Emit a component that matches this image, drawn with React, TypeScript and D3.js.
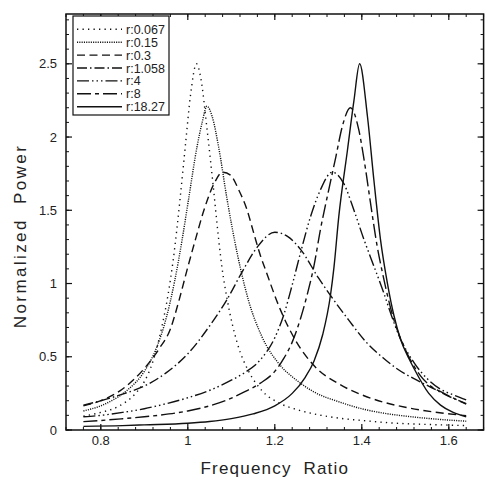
import React from 'react';
import * as d3 from 'd3';

// series (frequency ratio, normalized power)
const r0067X = [0.76, 0.8, 0.84, 0.88, 0.9, 0.92, 0.94, 0.955, 0.966, 0.983, 0.995, 1.006, 1.02, 1.03, 1.044, 1.06, 1.071, 1.079, 1.09, 1.114, 1.14, 1.17, 1.213, 1.25, 1.29, 1.35, 1.4, 1.48, 1.55, 1.64];
const r0067Y = [0.095, 0.12, 0.16, 0.25, 0.33, 0.47, 0.7, 0.93, 1.15, 1.6, 1.96, 2.28, 2.5, 2.4, 2.06, 1.62, 1.3, 1.1, 0.9, 0.59, 0.4, 0.27, 0.18, 0.14, 0.11, 0.08, 0.065, 0.046, 0.038, 0.03];

const r015X = [0.76, 0.8, 0.825, 0.86, 0.9, 0.928, 0.95, 0.97, 0.987, 1.002, 1.021, 1.033, 1.044, 1.056, 1.071, 1.09, 1.114, 1.14, 1.17, 1.213, 1.25, 1.29, 1.35, 1.4, 1.45, 1.5, 1.56, 1.64];
const r015Y = [0.13, 0.165, 0.2, 0.27, 0.4, 0.56, 0.76, 1.02, 1.3, 1.58, 1.93, 2.1, 2.21, 2.14, 1.93, 1.58, 1.2, 0.88, 0.64, 0.44, 0.34, 0.26, 0.19, 0.145, 0.115, 0.095, 0.077, 0.06];

const r03X = [0.76, 0.8, 0.85, 0.9, 0.933, 0.96, 0.98, 0.998, 1.0175, 1.037, 1.06, 1.08, 1.098, 1.117, 1.1365, 1.152, 1.167, 1.179, 1.213, 1.25, 1.29, 1.35, 1.4, 1.45, 1.5, 1.56, 1.64];
const r03Y = [0.165, 0.2, 0.28, 0.42, 0.55, 0.69, 0.887, 1.09, 1.3, 1.5, 1.68, 1.76, 1.74, 1.64, 1.5, 1.34, 1.19, 1.09, 0.82, 0.6, 0.44, 0.31, 0.24, 0.19, 0.155, 0.125, 0.098];

const r1058X = [0.76, 0.8, 0.85, 0.9, 0.95, 1.0, 1.05, 1.09, 1.125, 1.16, 1.2, 1.23, 1.26, 1.3, 1.33, 1.37, 1.41, 1.45, 1.48, 1.52, 1.56, 1.6, 1.64];
const r1058Y = [0.17, 0.2, 0.245, 0.3, 0.39, 0.52, 0.71, 0.89, 1.08, 1.25, 1.35, 1.32, 1.23, 1.04, 0.91, 0.75, 0.6, 0.49, 0.42, 0.35, 0.29, 0.23, 0.18];

const r4X = [0.76, 0.8, 0.85, 0.9, 0.937, 1.0, 1.052, 1.1, 1.13, 1.167, 1.2, 1.22, 1.24, 1.26, 1.282, 1.305, 1.332, 1.359, 1.382, 1.405, 1.42, 1.45, 1.466, 1.482, 1.52, 1.554, 1.58, 1.61, 1.64];
const r4Y = [0.09, 0.1, 0.12, 0.145, 0.17, 0.22, 0.273, 0.34, 0.39, 0.48, 0.63, 0.78, 0.99, 1.22, 1.455, 1.64, 1.76, 1.68, 1.5, 1.3, 1.18, 0.94, 0.8, 0.67, 0.46, 0.34, 0.28, 0.24, 0.205];

const r8X = [0.76, 0.8, 0.85, 0.9, 0.937, 1.0, 1.05, 1.09, 1.13, 1.167, 1.2, 1.221, 1.24, 1.259, 1.275, 1.29, 1.305, 1.324, 1.34, 1.355, 1.374, 1.393, 1.405, 1.42, 1.435, 1.447, 1.474, 1.497, 1.535, 1.554, 1.589, 1.64];
const r8Y = [0.057, 0.065, 0.077, 0.09, 0.102, 0.13, 0.165, 0.205, 0.26, 0.32, 0.4, 0.49, 0.6, 0.76, 0.93, 1.12, 1.37, 1.64, 1.86, 2.07, 2.2, 2.05, 1.85, 1.55, 1.26, 1.08, 0.75, 0.57, 0.37, 0.31, 0.25, 0.177];

const r1827X = [0.76, 0.85, 0.9, 1.0, 1.05, 1.1, 1.15, 1.2, 1.24, 1.27, 1.29, 1.31, 1.328, 1.336, 1.347, 1.367, 1.382, 1.395, 1.413, 1.428, 1.443, 1.459, 1.474, 1.489, 1.508, 1.52, 1.554, 1.581, 1.61, 1.64];
const r1827Y = [0.025, 0.03, 0.035, 0.046, 0.058, 0.078, 0.11, 0.165, 0.25, 0.36, 0.47, 0.65, 0.92, 1.11, 1.455, 1.91, 2.25, 2.5, 2.14, 1.7, 1.3, 1.0, 0.78, 0.62, 0.49, 0.42, 0.25, 0.17, 0.12, 0.09];

const seriesLabels = ['r:0.067', 'r:0.15', 'r:0.3', 'r:1.058', 'r:4', 'r:8', 'r:18.27'];
const xTicks = [0.8, 1, 1.2, 1.4, 1.6];
const yTicks = [0, 0.5, 1, 1.5, 2, 2.5];

const W = 493;
const H = 481;
const plot = { left: 66, right: 483.6, top: 14, bottom: 430 };
const ink = '#111';
const font = '"Liberation Sans", Arial, Helvetica, sans-serif';

// line styles, same order as the labels
const dashes = [
  '1.3,4.2',
  '1.1,1.2',
  '8,4.5',
  '10,3,1.5,3',
  '12,3,1.5,3,1.5,3,1.5,3',
  '14,4,4,4',
  '',
];

export default function App() {
  const x = d3.scaleLinear().domain([0.72, 1.68]).range([plot.left, plot.right]);
  const y = d3.scaleLinear().domain([0, 2.84]).range([plot.bottom, plot.top]);

  const series = [
    [r0067X, r0067Y],
    [r015X, r015Y],
    [r03X, r03Y],
    [r1058X, r1058Y],
    [r4X, r4Y],
    [r8X, r8Y],
    [r1827X, r1827Y],
  ].map(([xs, ys]) => xs.map((v, i) => [v, ys[i]] as [number, number]));

  const line = d3
    .line<[number, number]>()
    .x((d) => x(d[0]))
    .y((d) => y(d[1]))
    .curve(d3.curveMonotoneX);

  const xMinor = d3.range(0.72, 1.6801, 0.04);
  const yMinor = d3.range(0, 2.84, 0.1);

  const legend = { x: 73, y: 16, w: 96, h: 99, row0: 29.3, step: 12.9 };

  return (
    <svg width={W} height={H} style={{ position: 'absolute', left: 0, top: 0, background: '#fff' }}>
      <rect x={0} y={0} width={W} height={H} fill="#fff" />

      {/* curves */}
      {series.map((pts, i) => (
        <path
          key={seriesLabels[i]}
          d={line(pts) || ''}
          fill="none"
          stroke={ink}
          strokeWidth={1.4}
          strokeDasharray={dashes[i] || undefined}
        />
      ))}

      {/* minor ticks */}
      {xMinor.map((t) => (
        <g key={`xm${t}`} stroke={ink} strokeWidth={1}>
          <line x1={x(t)} x2={x(t)} y1={plot.bottom} y2={plot.bottom - 3} />
          <line x1={x(t)} x2={x(t)} y1={plot.top} y2={plot.top + 3} />
        </g>
      ))}
      {yMinor.map((t) => (
        <g key={`ym${t}`} stroke={ink} strokeWidth={1}>
          <line x1={plot.left} x2={plot.left + 3} y1={y(t)} y2={y(t)} />
          <line x1={plot.right} x2={plot.right - 3} y1={y(t)} y2={y(t)} />
        </g>
      ))}

      {/* major ticks and labels */}
      {xTicks.map((t) => (
        <g key={`x${t}`}>
          <line x1={x(t)} x2={x(t)} y1={plot.bottom} y2={plot.bottom - 6} stroke={ink} strokeWidth={1.2} />
          <line x1={x(t)} x2={x(t)} y1={plot.top} y2={plot.top + 6} stroke={ink} strokeWidth={1.2} />
          <text x={x(t)} y={plot.bottom + 15} textAnchor="middle" fontFamily={font} fontSize={13} fill="#222">
            {String(t)}
          </text>
        </g>
      ))}
      {yTicks.map((t) => (
        <g key={`y${t}`}>
          <line x1={plot.left} x2={plot.left + 6} y1={y(t)} y2={y(t)} stroke={ink} strokeWidth={1.2} />
          <line x1={plot.right} x2={plot.right - 6} y1={y(t)} y2={y(t)} stroke={ink} strokeWidth={1.2} />
          <text x={plot.left - 9} y={y(t) + 4.5} textAnchor="end" fontFamily={font} fontSize={13} fill="#222">
            {String(t)}
          </text>
        </g>
      ))}

      {/* frame */}
      <rect
        x={plot.left}
        y={plot.top}
        width={plot.right - plot.left}
        height={plot.bottom - plot.top}
        fill="none"
        stroke={ink}
        strokeWidth={1.5}
      />

      {/* axis titles */}
      <text
        x={(plot.left + plot.right) / 2}
        y={474}
        textAnchor="middle"
        fontFamily={font}
        fontSize={17}
        letterSpacing={1.2}
        fill="#222"
        style={{ whiteSpace: 'pre' }}
      >
        {'Frequency  Ratio'}
      </text>
      <text
        transform={`translate(26, 236) rotate(-90)`}
        textAnchor="middle"
        fontFamily={font}
        fontSize={17}
        letterSpacing={2.4}
        fill="#222"
        style={{ whiteSpace: 'pre' }}
      >
        {'Normalized  Power'}
      </text>

      {/* legend */}
      <rect x={legend.x} y={legend.y} width={legend.w} height={legend.h} fill="#fff" stroke={ink} strokeWidth={1.2} />
      {seriesLabels.map((lab, i) => {
        const ly = legend.row0 + i * legend.step;
        return (
          <g key={`lg${lab}`}>
            <line
              x1={77}
              x2={122}
              y1={ly}
              y2={ly}
              stroke={ink}
              strokeWidth={1.4}
              strokeDasharray={dashes[i] || undefined}
            />
            <text x={126} y={ly + 4.5} fontFamily={font} fontSize={12.5} fill="#222">
              {lab}
            </text>
          </g>
        );
      })}
    </svg>
  );
}
